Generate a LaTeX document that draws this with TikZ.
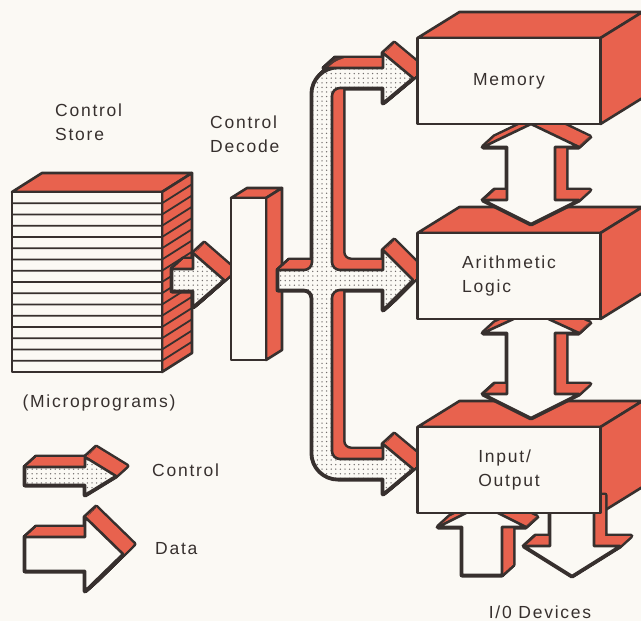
\documentclass[tikz,border=0pt]{standalone}
\usepackage{fontspec}
\setmainfont[LetterSpace=10]{Liberation Sans}
\usetikzlibrary{patterns.meta}

\definecolor{brick}{RGB}{232,98,78}
\definecolor{ink}{RGB}{55,48,46}
\definecolor{paper}{RGB}{251,249,244}

\pgfdeclarelayer{back}
\pgfdeclarelayer{mid}
\pgfsetlayers{back,mid,main}

\tikzset{
  outline/.style={draw=ink, line width=2.6pt, line join=round},
  side/.style={outline, fill=brick},
  front/.style={outline, fill=paper, text=ink, align=left,
    minimum width=183pt, minimum height=86pt, inner sep=0pt, outer sep=0pt},
  rim/.style={draw=ink, line width=5pt, line join=round},
  ctrl/.style={outline, preaction={fill=paper},
    pattern={Dots[distance=4.6pt, radius=0.75pt]}, pattern color=ink!70},
  data/.style={outline, fill=paper},
  txt/.style={text=ink, align=left, inner sep=0pt},
}

% arrow shape pushed out into a red relief behind it
\newcommand{\raisedshape}[2]{%
  \foreach \s in {0,...,10} \draw[rim, shift={(1.1*\s,-\s)}] #2;
  \foreach \s in {0,...,10} \fill[brick, shift={(1.1*\s,-\s)}] #2;
  \draw[#1] #2;}
% top and right faces of a box node
\newcommand{\boxfaces}[1]{%
  \begin{pgfonlayer}{back}
    \filldraw[side] (#1.north west) -- ++(42,-26) -- ([shift={(42,-26)}]#1.north east) -- (#1.north east) -- cycle;
    \filldraw[side] (#1.north east) -- ++(42,-26) -- ([shift={(42,-26)}]#1.south east) -- (#1.south east) -- cycle;
  \end{pgfonlayer}}

\begin{document}
\begin{tikzpicture}[x=1pt, y=-1pt, font=\fontsize{17.5}{24}\selectfont]
    \clip (0,0) rectangle (641,621);
    \begin{pgfonlayer}{back}
        \fill[paper] (0,0) rectangle (641,621);
    \end{pgfonlayer}

    % Control store
    \filldraw[side] (12,192) -- (42,173) -- (192,173) -- (162,192) -- cycle;
    \filldraw[side] (162,192) -- (192,173) -- (192,353) -- (162,372) -- cycle;
    \node[outline, fill=paper, minimum width=150pt, minimum height=180pt, outer sep=0pt] (store) at (87,282) {};
    \foreach \i in {1,...,15}
        \draw[ink, line width=1.8pt] (12,{192+11.25*\i}) -- (162,{192+11.25*\i}) -- ++(30,-19);
    \raisedshape{ctrl}{(172,269) -- (193,269) -- (193,253) -- (224,280) -- (193,307) -- (193,291) -- (172,291) -- cycle}

    % Control decode
    \filldraw[side] (231,198) -- ++(16,-10) -- ++(35,0) -- (266,198) -- cycle;
    \filldraw[side] (266,198) -- ++(16,-10) -- ++(0,162) -- (266,360) -- cycle;
    \node[outline, fill=paper, minimum width=35pt, minimum height=162pt, outer sep=0pt] (decode) at (248.5,279) {};

    % Control bus
    \raisedshape{ctrl}{(278,270) -- (295,270) [rounded corners=8] -- (312,270) -- (312,150)
        [rounded corners=26] -- (312,68) -- (350,68) [sharp corners] -- (383,68) -- (383,53) -- (413,78)
        -- (383,103) -- (383,88) -- (360,88) [rounded corners=8] -- (332,88) -- (332,270) -- (360,270)
        [sharp corners] -- (383,270) -- (383,250) -- (413,280) -- (383,310) -- (383,290) -- (360,290)
        [rounded corners=8] -- (332,290) -- (332,459) -- (360,459) [sharp corners] -- (383,459)
        -- (383,444) -- (413,469) -- (383,494) -- (383,479) -- (360,479) [rounded corners=26]
        -- (312,479) -- (312,350) [rounded corners=8] -- (312,290) -- (295,290) [sharp corners]
        -- (278,290) -- cycle}

    % Units
    \node[front] (mem) at (509,81) {Memory};
    \node[front] (alu) at (509,276) {Arithmetic\\Logic};
    \node[front] (io) at (509,470) {Input/\\Output};
    \boxfaces{mem}
    \boxfaces{alu}
    \boxfaces{io}

    % Data paths
    \begin{pgfonlayer}{mid}
        \raisedshape{data}{(507,147) -- (483,147) -- (531,124) -- (579,147) -- (555,147) -- (555,200) -- (579,200) -- (531,224) -- (483,200) -- (507,200) -- cycle}
        \raisedshape{data}{(507,333) -- (483,333) -- (531,311) -- (579,333) -- (555,333) -- (555,394) -- (579,394) -- (531,418) -- (483,394) -- (507,394) -- cycle}
        \raisedshape{data}{(462,575) -- (462,527) -- (438,527) -- (482,505) -- (526,527) -- (502,527) -- (502,575) -- cycle}
        \raisedshape{data}{(550,505) -- (550,546) -- (524,546) -- (572,576) -- (620,546) -- (594,546) -- (594,505) -- cycle}
    \end{pgfonlayer}

    % Legend
    \raisedshape{ctrl}{(25,467) -- (85,467) -- (85,457) -- (116,476) -- (85,495) -- (85,485) -- (25,485) -- cycle}
    \raisedshape{data}{(25,537) -- (85,537) -- (85,517) -- (123,554) -- (85,591) -- (85,571) -- (25,571) -- cycle}

    % Labels
    \node[txt, anchor=north west] (storetext) at (55,104) {Control\\Store};
    \node[txt, anchor=north west] (decodetext) at (210,116) {Control\\Decode};
    \node[txt] (micro) at (99,403) {(Microprograms)};
    \node[txt, anchor=west] (ctrltext) at (152,470) {Control};
    \node[txt, anchor=west] (datatext) at (155,549) {Data};
    \node[txt] (devices) at (540,612) {I/0 Devices};
\end{tikzpicture}
\end{document}
